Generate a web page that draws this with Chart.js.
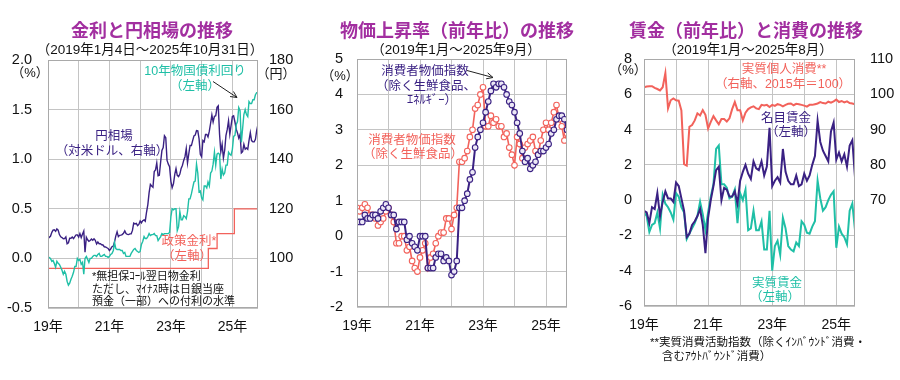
<!DOCTYPE html>
<html><head><meta charset="utf-8">
<script src="https://cdn.jsdelivr.net/npm/chart.js@4.4.1/dist/chart.umd.min.js"></script>
<style>
body{margin:0;background:#fff;width:900px;height:380px;overflow:hidden;position:relative;font-family:'Liberation Sans','Noto Sans CJK JP',sans-serif;}
.p{position:absolute;top:0;width:300px;height:380px;}
.p canvas{position:absolute;left:0;top:0;}
.t{position:absolute;width:300px;text-align:center;color:#a22fa0;font-size:18px;line-height:20px;top:19px;white-space:nowrap;font-weight:bold;font-family:'Noto Sans CJK JP',sans-serif;}
.s{position:absolute;width:300px;text-align:center;color:#111;font-size:13.5px;line-height:16px;top:42px;white-space:nowrap;}
</style></head>
<body>
<div class="p" style="left:0"><canvas id="c1" width="300" height="380"></canvas>
 <div class="t" style="left:2px">金利と円相場の推移</div>
 <div class="s" style="left:0px">（2019年1月4日～2025年10月31日）</div></div>
<div class="p" style="left:300px"><canvas id="c2" width="300" height="380"></canvas>
 <div class="t" style="left:7px">物価上昇率（前年比）の推移</div>
 <div class="s" style="left:6px">（2019年1月～2025年9月）</div></div>
<div class="p" style="left:600px"><canvas id="c3" width="300" height="380"></canvas>
 <div class="t" style="left:-4px">賃金（前年比）と消費の推移</div>
 <div class="s" style="left:-2px">（2019年1月～2025年8月）</div></div>
<script>
// ---------------- DATA ----------------
// Panel 1: semi-monthly samples (2019-01-04, then the 15th and last day of each month)
const fxUsdJpy = [108.0,
 108.5,108.9, 110.5,111.4, 111.5,110.9, 111.9,111.4, 109.6,108.7, 108.4,107.9, 108.0,108.7, 105.9,106.3, 108.1,108.1, 108.6,108.0, 108.8,109.5, 109.5,108.6,
 110.0,108.4, 109.8,111.0, 102.5,108.5, 107.5,106.9, 107.2,107.8, 107.3,107.9, 107.3,105.8, 106.6,105.9, 105.9,105.5, 105.4,104.7, 104.6,104.3, 104.0,103.2,
 103.8,104.7, 105.0,106.6, 109.0,110.7, 108.8,109.3, 109.4,109.6, 110.1,111.1, 110.0,109.7, 109.6,109.9, 109.9,111.3, 114.2,113.9, 114.1,113.2, 113.7,115.1,
 114.3,115.2, 115.5,115.0, 118.6,121.7, 126.5,129.8, 129.2,128.7, 135.0,135.7, 138.5,133.3, 133.5,138.9, 143.5,144.7, 149.5,148.7, 139.5,138.0, 137.0,131.1,
 128.5,130.1, 134.0,136.2, 133.5,133.0, 134.0,136.3, 137.5,139.5, 141.0,144.3, 138.5,142.3, 145.5,145.5, 147.5,149.4, 149.7,151.5, 151.4,148.2, 142.0,141.0,
 147.5,147.0, 150.0,150.0, 149.0,151.3, 154.5,157.8, 155.0,157.3, 157.5,160.9, 161.5,150.0, 143.0,146.0, 140.5,143.6, 149.5,152.0, 155.5,150.0, 153.5,157.2,
 157.5,155.0, 152.0,150.6, 148.5,150.0, 142.5,143.0, 146.0,144.0, 144.5,144.0, 147.5,150.7, 147.5,147.0, 147.0,148.0, 151.5,154.0];
const jgb10y = [0.01,
 0.01,0.00, -0.03,-0.02, -0.05,-0.09, -0.03,-0.05, -0.06,-0.09, -0.12,-0.16, -0.13,-0.16, -0.23,-0.27, -0.25,-0.21, -0.18,-0.14, -0.08,-0.08, 0.00,-0.02,
 -0.01,-0.06, -0.04,-0.16, 0.00,0.02, -0.01,-0.04, 0.00,0.00, 0.02,0.03, 0.03,0.02, 0.04,0.05, 0.02,0.02, 0.03,0.04, 0.02,0.02, 0.01,0.02,
 0.04,0.05, 0.08,0.16, 0.10,0.09, 0.09,0.09, 0.08,0.08, 0.05,0.06, 0.02,0.02, 0.02,0.02, 0.05,0.07, 0.09,0.10, 0.08,0.07, 0.06,0.07,
 0.14,0.17, 0.22,0.20, 0.20,0.22, 0.25,0.23, 0.24,0.24, 0.25,0.23, 0.23,0.18, 0.20,0.22, 0.25,0.24, 0.25,0.25, 0.25,0.25, 0.26,0.42,
 0.50,0.49, 0.50,0.50, 0.28,0.32, 0.47,0.39, 0.39,0.43, 0.42,0.40, 0.47,0.60, 0.60,0.65, 0.71,0.77, 0.78,0.95, 0.86,0.67, 0.68,0.61,
 0.59,0.73, 0.73,0.71, 0.77,0.73, 0.86,0.88, 0.95,1.07, 0.94,1.05, 1.06,1.05, 0.80,0.90, 0.84,0.86, 0.94,0.94, 1.07,1.05, 1.04,1.10,
 1.23,1.24, 1.35,1.38, 1.52,1.49, 1.17,1.31, 1.45,1.50, 1.45,1.43, 1.58,1.56, 1.56,1.60, 1.60,1.65, 1.67,1.67];
const policyDates = ['2019-01-04','2024-03-19','2024-07-01','2025-01-24','2025-10-31'];
const policyRate  = [-0.1, 0.1, 0.25, 0.5, 0.5];

// Panel 2: monthly, Jan 2019 - Sep 2025
const cpiCore = [
 0.8,0.7,0.8,0.9,0.8,0.6,0.6,0.5,0.3,0.4,0.5,0.7,
 0.8,0.6,0.4,-0.2,-0.2,0.0,0.0,-0.4,-0.3,-0.7,-0.9,-1.0,
 -0.6,-0.4,-0.2,-0.9,-0.6,-0.5,-0.2,0.0,0.1,0.1,0.5,0.5,
 0.2,0.6,0.8,2.1,2.1,2.2,2.4,2.8,3.0,3.6,3.7,4.0,
 4.2,3.1,3.1,3.4,3.2,3.3,3.1,3.1,2.8,2.9,2.5,2.3,
 2.0,2.8,2.6,2.2,2.5,2.6,2.7,2.8,2.4,2.3,2.7,3.0,
 3.2,3.0,3.2,3.5,3.7,3.3,3.1,2.7,2.9];
const cpiCoreCore = [
 0.4,0.4,0.4,0.6,0.5,0.5,0.6,0.6,0.5,0.7,0.8,0.9,
 0.8,0.6,0.6,0.2,0.4,0.4,0.4,-0.1,0.0,-0.2,-0.3,-0.4,
 0.0,0.0,0.0,-0.9,-0.9,-0.9,-0.6,-0.5,-0.5,-0.7,-0.6,-0.7,
 -1.1,-1.0,-0.7,0.8,0.8,1.0,1.2,1.6,1.8,2.5,2.8,3.0,
 3.2,3.5,3.8,4.1,4.3,4.2,4.3,4.3,4.2,4.0,3.8,3.7,
 3.5,3.2,2.9,2.4,2.1,2.2,1.9,2.0,2.1,2.3,2.4,2.4,
 2.5,2.6,2.9,3.0,3.3,3.4,3.4,3.3,3.0];

// Panel 3: monthly, Jan 2019 - Aug 2025
const nominalWage = [
 -0.6,-0.7,-1.3,-0.4,-0.5,0.4,-0.9,-0.1,0.5,0.1,0.1,-0.1,
 1.0,0.8,0.1,-0.6,-2.1,-1.9,-1.4,-1.2,-0.9,-0.5,-1.4,-3.0,
 -1.0,0.0,0.8,1.7,1.9,0.0,0.7,0.6,0.2,0.2,0.5,-0.2,
 1.1,1.6,2.0,1.5,1.2,2.2,1.8,1.7,2.2,1.4,1.9,4.1,
 0.8,1.1,1.3,1.0,2.9,1.6,1.1,0.9,0.9,1.4,0.8,0.9,
 1.5,1.1,1.4,2.0,2.5,4.5,3.3,2.8,2.5,2.2,3.9,4.4,
 2.3,2.7,2.2,2.6,1.9,3.1,3.4,1.3];
const realWage = [
 -0.7,-0.9,-1.8,-1.4,-1.3,-0.7,-1.6,0.3,-0.2,-0.4,-0.7,-1.1,
 0.4,0.2,-0.4,-0.7,-2.2,-1.9,-1.6,-1.3,-0.9,-0.1,-0.8,-1.7,
 -0.7,0.2,0.9,2.9,3.1,0.9,0.9,0.7,0.1,0.2,0.6,-1.3,
 0.4,0.0,0.6,-1.7,-1.6,-0.6,-1.7,-1.7,-1.2,-2.8,-2.8,-0.6,
 -4.0,-2.6,-2.3,-3.1,-1.0,-1.6,-2.6,-2.8,-2.9,-2.4,-2.6,-1.2,
 -1.4,-1.85,-1.9,-1.5,-1.2,1.1,0.1,-0.6,-0.4,0.0,0.3,0.5,
 -2.7,-1.5,-1.9,-2.1,-2.5,-0.6,-0.2,-1.7];
const realConsumption = [
 102.0,102.2,102.3,102.3,101.8,101.5,101.1,102.0,106.0,96.0,98.3,98.8,
 98.3,98.2,95.4,80.2,79.8,90.8,91.3,92.6,94.6,94.0,95.5,94.2,
 90.3,92.2,93.8,92.6,91.5,93.0,93.0,92.3,93.2,95.8,97.8,95.5,
 95.5,92.6,94.8,95.8,96.3,96.6,96.0,95.8,97.0,96.8,97.0,96.4,
 97.0,96.7,97.2,97.0,96.6,97.0,97.3,97.4,96.9,97.3,97.2,97.0,
 96.8,96.5,97.0,97.0,97.2,97.4,97.8,97.5,97.4,97.9,97.6,98.0,
 98.5,97.8,98.1,97.7,98.0,97.5,97.4,97.2];

// ---------------- HELPERS ----------------
const FONT = "'Liberation Sans','Noto Sans CJK JP',sans-serif";
const GRID = '#c4c4c4', FRAME = '#a9a9a9';
const TEAL = '#1fbfa6', PURPLE = '#3a2183', RED = '#f2625b';
Chart.defaults.font.family = FONT;
Chart.defaults.color = '#111';
Chart.defaults.animation = false;

function monthX(s){ const [y,m,d] = s.split('-').map(Number); const dim = new Date(y, m, 0).getDate(); return (y-2019)*12 + (m-1) + (d-1)/dim; }
function pad2(n){ return (n<10?'0':'')+n; }
// sampling dates for panel-1 daily series
const sampleDates = ['2019-01-04'];
for (let y=2019; y<=2025; y++) for (let m=1; m<=12; m++) {
  if (y===2025 && m>10) break;
  const dim = new Date(y, m, 0).getDate();
  sampleDates.push(`${y}-${pad2(m)}-15`, `${y}-${pad2(m)}-${dim}`);
}
const pts = (xs, ys) => ys.map((v,i)=>({x:xs[i], y:v}));
const idx = n => Array.from({length:n}, (_,i)=>i);

const YEAR_TICKS = [0,12,24,36,48,60,72];
function xScale(max, h){
  return { type:'linear', min:0, max,
    afterBuildTicks: s => { s.ticks = YEAR_TICKS.map(v=>({value:v})); },
    afterFit: s => { s.height = h; },
    grid:{color:GRID, drawTicks:false}, border:{display:false},
    ticks:{padding:11, autoSkip:false, maxRotation:0, font:{size:14}, color:'#111',
      callback: v => (v%24===0 ? (19+v/12)+'年' : '')}
  };
}
function yScale(pos, min, max, step, w, pad, fmt, grid){
  return { type:'linear', position:pos, min, max,
    afterBuildTicks: s => { const t=[]; for (let v=min; v<=max+1e-9; v+=step) t.push({value:+v.toFixed(6)}); s.ticks=t; },
    afterFit: s => { s.width = w; },
    grid:{display:grid, color:GRID, drawTicks:false}, border:{display:false},
    ticks:{padding:pad, font:{size:14.5}, color:'#111', callback: fmt}
  };
}
function annot(texts, arrows){
  return { id:'annot', afterDraw(chart){
    const c = chart.ctx, a = chart.chartArea;
    c.save();
    c.strokeStyle = FRAME; c.lineWidth = 1;
    c.strokeRect(a.left+0.5, a.top+0.5, a.right-a.left-1, a.bottom-a.top-1);
    texts.forEach(t => {
      c.font = `${t.s||12}px ${FONT}`; c.fillStyle = t.c || '#111';
      c.textAlign = t.a || 'center'; c.textBaseline = 'middle';
      c.fillText(t.t, t.x, t.y);
    });
    (arrows||[]).forEach(r => {
      c.strokeStyle = '#222'; c.lineWidth = 1;
      c.beginPath(); c.moveTo(r[0], r[1]); c.lineTo(r[2], r[3]); c.stroke();
      const ang = Math.atan2(r[3]-r[1], r[2]-r[0]), L = 7;
      c.beginPath();
      c.moveTo(r[2]-L*Math.cos(ang-0.45), r[3]-L*Math.sin(ang-0.45));
      c.lineTo(r[2], r[3]);
      c.lineTo(r[2]-L*Math.cos(ang+0.45), r[3]-L*Math.sin(ang+0.45));
      c.stroke();
    });
    c.restore();
  }};
}
const baseOpts = (top) => ({ responsive:false, devicePixelRatio:1, animation:false,
  layout:{padding:{top, left:0, right:0, bottom:0}},
  plugins:{legend:{display:false}, tooltip:{enabled:false}},
  elements:{point:{radius:0}, line:{tension:0}} });

// ---------------- PANEL 1 ----------------
const sx = sampleDates.map(monthX);
const o1 = baseOpts(60);
o1.scales = {
  x: xScale(monthX('2025-10-31'), 72),
  y: yScale('left', -0.5, 2.0, 0.5, 48, 16, v => v.toFixed(1), true),
  y2: yScale('right', 80, 180, 20, 42, 11, v => (v===80 ? '' : v), false)
};
new Chart(document.getElementById('c1'), {
  type:'line',
  data:{ datasets:[
    {data: pts(sx, jgb10y), borderColor:TEAL, borderWidth:1.4, yAxisID:'y'},
    {data: pts(sx, fxUsdJpy), borderColor:PURPLE, borderWidth:1.4, yAxisID:'y2'},
    {data: pts(policyDates.map(monthX), policyRate), borderColor:RED, borderWidth:1.3, stepped:'before', yAxisID:'y'}
  ]},
  options:o1,
  plugins:[annot([
    {t:'（%）', x:30, y:73, s:13},
    {t:'（円）', x:276, y:74, s:13},
    {t:'10年物国債利回り', x:195, y:72, c:TEAL, s:12.5},
    {t:'（左軸）', x:195, y:87, c:TEAL, s:12.5},
    {t:'円相場', x:114, y:137, c:PURPLE, s:12.5},
    {t:'（対米ドル、右軸）', x:112, y:152, c:PURPLE, s:12.5},
    {t:'政策金利*', x:189, y:242, c:RED, s:12.5},
    {t:'（左軸）', x:187, y:257, c:RED, s:12.5},
    {t:'*無担保ｺｰﾙ翌日物金利', x:92, y:277, a:'left', s:11},
    {t:'ただし、ﾏｲﾅｽ時は日銀当座', x:92, y:289.5, a:'left', s:11},
    {t:'預金（一部）への付利の水準', x:92, y:301.5, a:'left', s:11}
  ], [[213, 81.5, 237, 97.5]])]
});

// ---------------- PANEL 2 ----------------
const o2 = baseOpts(59);
o2.layout.padding.right = 33;
o2.scales = {
  x: xScale(cpiCore.length-1, 73),
  y: yScale('left', -2, 5, 1, 57, 14, v => v, true)
};
new Chart(document.getElementById('c2'), {
  type:'line',
  data:{ datasets:[
    {data: pts(idx(cpiCoreCore.length), cpiCoreCore), borderColor:PURPLE, borderWidth:2,
     pointRadius:2.8, pointBorderWidth:1.1, pointBorderColor:PURPLE, pointBackgroundColor:'#ece8f6'},
    {data: pts(idx(cpiCore.length), cpiCore), borderColor:RED, borderWidth:1.6,
     pointRadius:2.8, pointBorderWidth:1.1, pointBorderColor:RED, pointBackgroundColor:'#ffffff'}
  ]},
  options:o2,
  plugins:[annot([
    {t:'（%）', x:40, y:76, s:13},
    {t:'消費者物価指数', x:125, y:72, c:PURPLE, s:12.5},
    {t:'（除く生鮮食品、', x:126, y:87, c:PURPLE, s:12.5},
    {t:'ｴﾈﾙｷﾞｰ）', x:132, y:101, c:PURPLE, s:12.5},
    {t:'消費者物価指数', x:112, y:141, c:RED, s:12.5},
    {t:'（除く生鮮食品）', x:113, y:155, c:RED, s:12.5}
  ], [[167, 70.5, 193, 77.5]])]
});

// ---------------- PANEL 3 ----------------
const o3 = baseOpts(59);
o3.scales = {
  x: xScale(nominalWage.length-1, 74),
  y: yScale('left', -6, 8, 2, 44, 12, v => v, true),
  y2: yScale('right', 40, 110, 10, 45, 15, v => (v<70 ? '' : v), false)
};
new Chart(document.getElementById('c3'), {
  type:'line',
  data:{ datasets:[
    {data: pts(idx(nominalWage.length), nominalWage), borderColor:PURPLE, borderWidth:2, yAxisID:'y'},
    {data: pts(idx(realWage.length), realWage), borderColor:TEAL, borderWidth:2, yAxisID:'y'},
    {data: pts(idx(realConsumption.length), realConsumption), borderColor:RED, borderWidth:2, yAxisID:'y2'}
  ]},
  options:o3,
  plugins:[annot([
    {t:'（%）', x:28, y:70, s:13},
    {t:'実質個人消費**', x:184, y:70, c:RED, s:12.5},
    {t:'（右軸、2015年＝100）', x:183, y:85, c:RED, s:12.5},
    {t:'名目賃金', x:186, y:119, c:PURPLE, s:12.5},
    {t:'（左軸）', x:191, y:133, c:PURPLE, s:12.5},
    {t:'実質賃金', x:177, y:284, c:TEAL, s:12.5},
    {t:'（左軸）', x:175, y:298, c:TEAL, s:12.5},
    {t:'**実質消費活動指数（除くｲﾝﾊﾞｳﾝﾄﾞ消費・', x:50, y:343, a:'left', s:11.5},
    {t:'含むｱｳﾄﾊﾞｳﾝﾄﾞ消費）', x:62, y:357, a:'left', s:11.5}
  ])]
});
</script>
</body></html>
